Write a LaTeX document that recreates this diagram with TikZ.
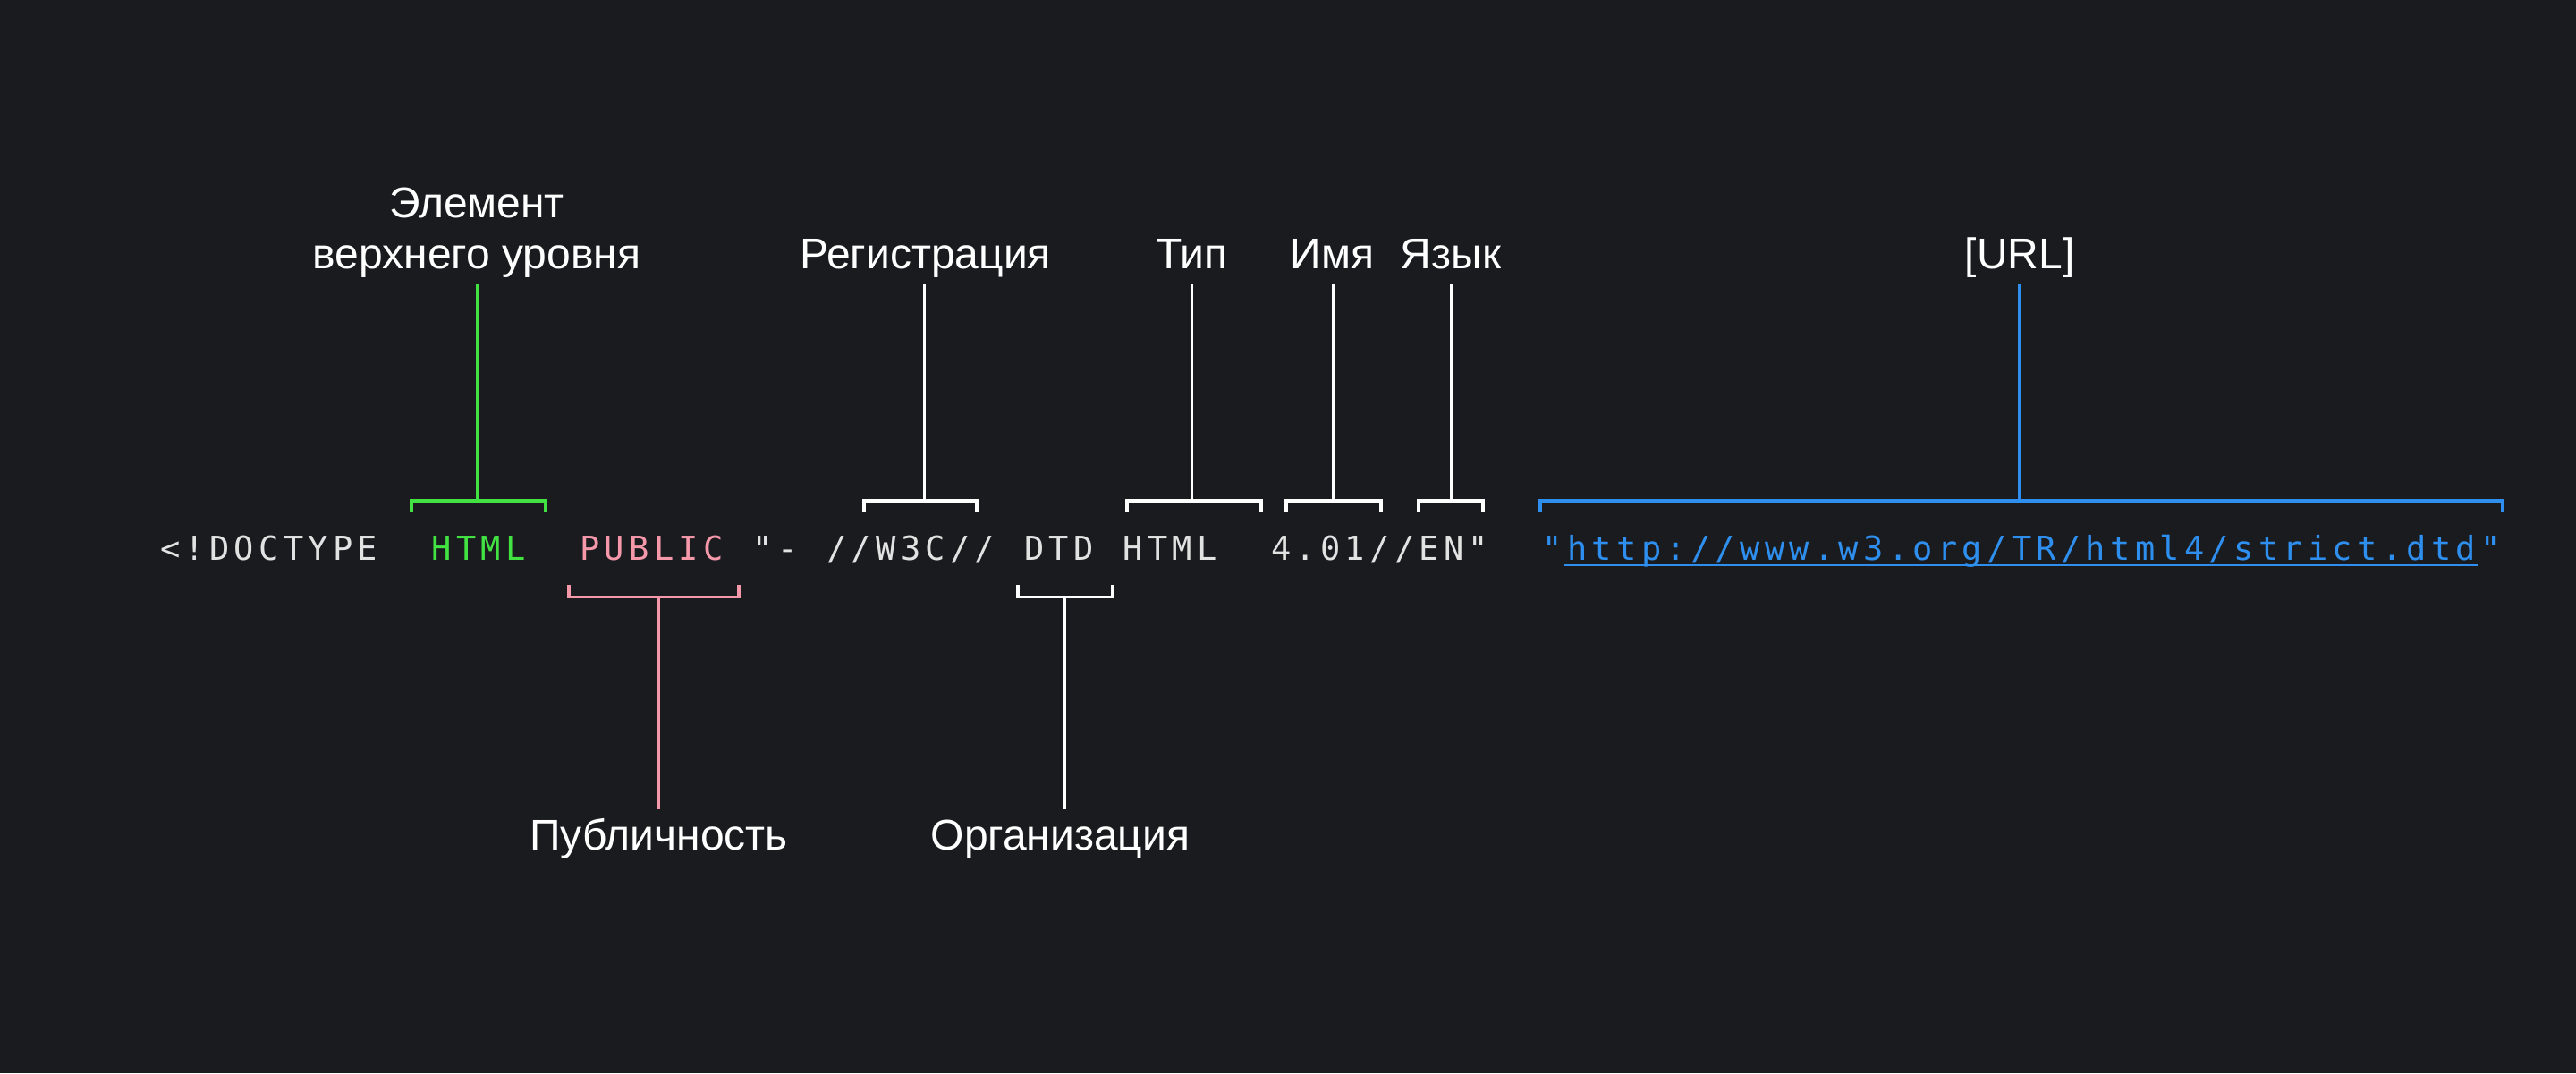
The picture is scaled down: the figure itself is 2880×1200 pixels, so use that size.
\documentclass[tikz,border=0pt]{standalone}
\usepackage{fontspec}
\setmainfont{Liberation Sans}
\newfontfamily\codefont{DejaVu Sans Mono}
\definecolor{bg}{HTML}{1A1B1F}
\definecolor{cgreen}{HTML}{42E243}
\definecolor{cpink}{HTML}{F498AA}
\definecolor{cblue}{HTML}{2E8FEF}
\definecolor{ccode}{HTML}{E2E2E2}
\newlength\cellpitch
\setlength\cellpitch{13.8pt}
\def\cellsloop#1{\ifx#1\relax\else\makebox[\cellpitch]{#1}\expandafter\cellsloop\fi}
\newcommand\cells[1]{\cellsloop#1\relax}
\tikzset{
  lbl/.style={text=white, inner sep=0pt, anchor=base, font=\fontsize{24}{28.5}\selectfont},
  code/.style={inner sep=0pt, anchor=base west, font=\codefont\fontsize{18.5}{22}\selectfont},
  brk/.style={line width=1.75pt, line join=miter},
}
\begin{document}
\begin{tikzpicture}[x=0.5pt,y=-0.5pt]
\fill[bg] (0,0) rectangle (2880,1200);
\useasboundingbox (0,0) rectangle (2880,1200);

% code line (cell c at x = 176 + 27.6 c)
\node[code, text=ccode] (c0) at (176,626.5) {\cells{<!DOCTYPE}};
\node[code, text=cgreen] (c11) at (479.6,626.5) {\cells{HTML}};
\node[code, text=cpink] (c17) at (645.2,626.5) {\cells{PUBLIC}};
\node[code, text=ccode] (c24) at (838.4,626.5) {\cells{"-}};
\node[code, text=ccode] (c27) at (921.2,626.5) {\cells{//W3C//}};
\node[code, text=ccode] (c35) at (1142,626.5) {\cells{DTD}};
\node[code, text=ccode] (c39) at (1252.4,626.5) {\cells{HTML}};
\node[code, text=ccode] (c45) at (1418,626.5) {\cells{4.01//EN"}};
\node[code, text=cblue] (c56) at (1721.6,626.5) {\cells{"}};
\node[code, text=cblue] (c57) at (1749.2,626.5) {\cells{http://www.w3.org/TR/html4/strict.dtd}};
\node[code, text=cblue] (c94) at (2770.4,626.5) {\cells{"}};
\coordinate (ulA) at (1749.2,632);
\coordinate (ulB) at (2770.4,632);
\draw[cblue, line width=1.35pt] (ulA) -- (ulB);

% labels
\node[lbl, align=center] (lTop) at (533,300) {Элемент\\верхнего уровня};
\node[lbl] (lReg) at (1034.5,300) {Регистрация};
\node[lbl] (lType) at (1332,300) {Тип};
\node[lbl] (lName) at (1489.5,300) {Имя};
\node[lbl] (lLang) at (1622,300) {Язык};
\node[lbl] (lUrl) at (2258,300) {[URL]};
\node[lbl] (lPub) at (736.5,950) {Публичность};
\node[lbl] (lOrg) at (1185.5,950) {Организация};

\coordinate (topY) at (0,318);
\coordinate (botY) at (0,905);

% top brackets: ticks end y=573, bar y=560
\coordinate (gL) at (460,573);  \coordinate (gR) at (610,573);  \coordinate (gM) at (534,560);
\coordinate (rL) at (966,573);  \coordinate (rR) at (1092,573); \coordinate (rM) at (1033.5,560);
\coordinate (tL) at (1260,573); \coordinate (tR) at (1410,573); \coordinate (tM) at (1332.5,560);
\coordinate (nL) at (1438,573); \coordinate (nR) at (1544,573); \coordinate (nM) at (1490.5,560);
\coordinate (eL) at (1586,573); \coordinate (eR) at (1658,573); \coordinate (eM) at (1623,560);
\coordinate (uL) at (1722,573); \coordinate (uR) at (2798,573); \coordinate (uM) at (2258,560);

\draw[brk, cgreen] (gL) |- (gR |- gM) -- (gR);
\draw[brk, cgreen] (gM) -- (gM |- topY);
\draw[brk, white] (rL) |- (rR |- rM) -- (rR);
\draw[brk, white] (rM) -- (rM |- topY);
\draw[brk, white] (tL) |- (tR |- tM) -- (tR);
\draw[brk, white] (tM) -- (tM |- topY);
\draw[brk, white] (nL) |- (nR |- nM) -- (nR);
\draw[brk, white] (nM) -- (nM |- topY);
\draw[brk, white] (eL) |- (eR |- eM) -- (eR);
\draw[brk, white] (eM) -- (eM |- topY);
\draw[brk, cblue] (uL) |- (uR |- uM) -- (uR);
\draw[brk, cblue] (uM) -- (uM |- topY);

% bottom brackets: ticks start y=654, bar y=667.5
\coordinate (pL) at (636,654);  \coordinate (pR) at (826,654);  \coordinate (pM) at (736,667.5);
\coordinate (dL) at (1138,654); \coordinate (dR) at (1244,654); \coordinate (dM) at (1190,667.5);

\draw[brk, cpink] (pL) |- (pR |- pM) -- (pR);
\draw[brk, cpink] (pM) -- (pM |- botY);
\draw[brk, white] (dL) |- (dR |- dM) -- (dR);
\draw[brk, white] (dM) -- (dM |- botY);
\end{tikzpicture}
\end{document}
